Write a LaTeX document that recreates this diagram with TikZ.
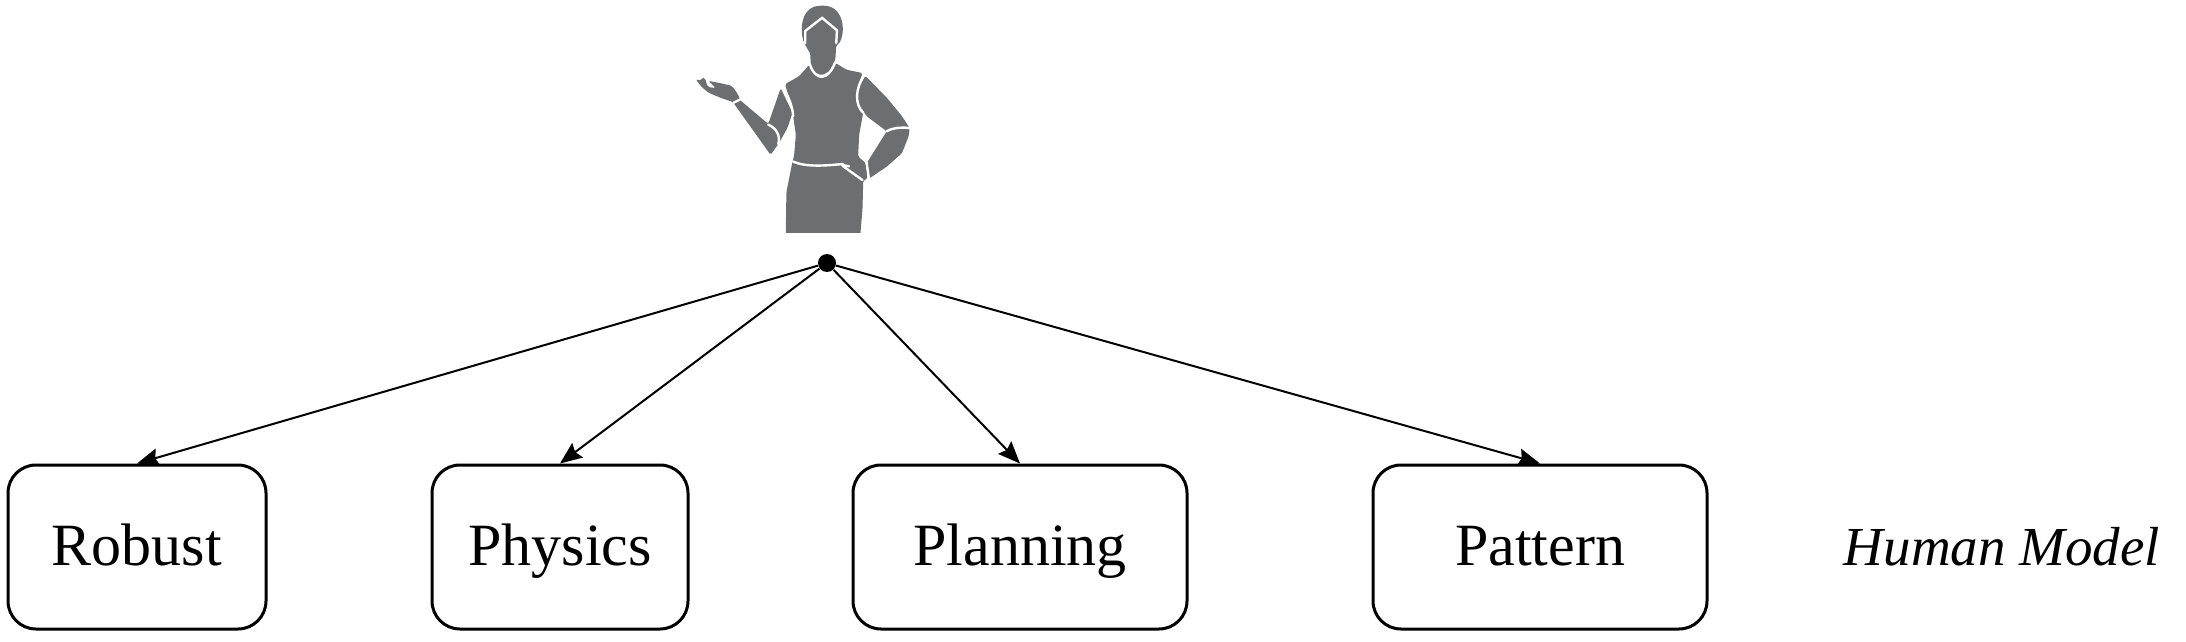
\documentclass[tikz,border=0pt]{standalone}
\usepackage{fontspec}
\setmainfont{Liberation Serif}
\usetikzlibrary{arrows.meta}
\definecolor{humangray}{HTML}{6D6E71}
\tikzset{
  modelbox/.style = {draw, line width=1.5pt, rounded corners=14pt, minimum height=82pt, text height=25pt, text depth=7pt, font=\fontsize{30}{34}\selectfont},
  rootdot/.style = {circle, fill=black, inner sep=0pt, minimum size=9pt},
  modelarrow/.style = {-{Stealth[length=11pt, width=9pt, inset=1.5pt]}, line width=1pt},
  humanpart/.style = {fill=humangray, rounded corners=0.8pt},
  humanline/.style = {draw=white, line width=1.2pt, line cap=round},
}
\begin{document}
\begin{tikzpicture}[x = {(0.5pt, 0pt)}, y = {(0pt, -0.5pt)}]
  \useasboundingbox (0, 0) rectangle (2186, 642);

  % person, in crop coordinates
  \begin{scope}[shift = {(678, 0)}, scale = 0.3367]
    \fill[humanpart] (376, 130) .. controls (360, 90) and (365, 17) .. (428, 17) .. controls (490, 17) and (500, 90) .. (478, 130) -- (470, 135) -- (467, 180) -- (450, 212) -- (425, 224) -- (405, 214) -- (394, 190) -- (393, 160) -- cycle;
    \fill[humanpart] (318, 250) -- (360, 226) -- (390, 192) -- (405, 218) -- (425, 230) -- (450, 218) -- (468, 187) -- (500, 207) -- (548, 217) -- (530, 270) -- (550, 335) -- (538, 400) -- (535, 465) -- (558, 485) -- (563, 530) -- (550, 537) -- (548, 620) [sharp corners] -- (542, 692) -- (320, 692) [rounded corners=0.8pt] -- (322, 570) -- (338, 490) -- (345, 460) -- (350, 400) -- (340, 330) -- cycle;
    \fill[humanpart] (305, 262) -- (340, 335) -- (325, 380) -- (300, 425) -- (275, 460) -- (175, 320) -- (163, 303) -- (130, 292) -- (90, 275) -- (70, 258) -- (52, 235) -- (68, 240) -- (72, 230) -- (80, 232) -- (88, 258) -- (112, 262) -- (90, 240) -- (130, 248) -- (160, 255) -- (178, 280) -- (185, 298) -- (268, 368) -- cycle;
    \fill[humanpart] (556, 225) -- (620, 290) -- (665, 345) -- (688, 380) -- (685, 405) -- (665, 455) -- (620, 495) -- (568, 530) -- (562, 482) -- (620, 390) -- (560, 345) -- (538, 310) -- (532, 270) -- cycle;
    \draw[humanline] (378, 128) -- (378, 92) -- (428, 53) -- (472, 90) -- (470, 128);
    \draw[humanline] (392, 192) .. controls (400, 220) and (420, 230) .. (428, 228) .. controls (445, 228) and (460, 205) .. (467, 184);
    \draw[humanline] (312, 255) .. controls (325, 285) and (340, 310) .. (342, 345);
    \draw[humanline] (554, 222) .. controls (525, 265) and (525, 310) .. (550, 335);
    \draw[humanline] (268, 370) .. controls (290, 380) and (305, 400) .. (298, 428);
    \draw[humanline] (165, 305) -- (185, 295);
    \draw[humanline] (620, 390) .. controls (640, 378) and (665, 378) .. (687, 380);
    \draw[humanline] (342, 480) .. controls (380, 497) and (440, 492) .. (490, 487);
    \draw[humanline] (488, 492) -- (548, 535);
    \draw[humanline] (488, 490) -- (508, 494);
    \draw[humanline] (560, 482) -- (567, 530);
  \end{scope}

  \node[rootdot] (root) at (827, 263) {};

  \node[modelbox, minimum width=129pt] (robust) at (137, 547) {Robust};
  \draw[modelarrow] (root) -- (robust.north);

  \node[modelbox, minimum width=128pt] (physics) at (560, 547) {Physics};
  \draw[modelarrow] (root) -- (physics.north);

  \node[modelbox, minimum width=167pt] (planning) at (1020, 547) {Planning};
  \draw[modelarrow] (root) -- (planning.north);

  \node[modelbox, minimum width=167pt] (pattern) at (1540, 547) {Pattern};
  \draw[modelarrow] (root) -- (pattern.north);

  \node[font=\fontsize{27.5}{33}\selectfont\itshape, text height=25pt, text depth=7pt] (label) at (2002, 547) {Human Model};
\end{tikzpicture}
\end{document}
